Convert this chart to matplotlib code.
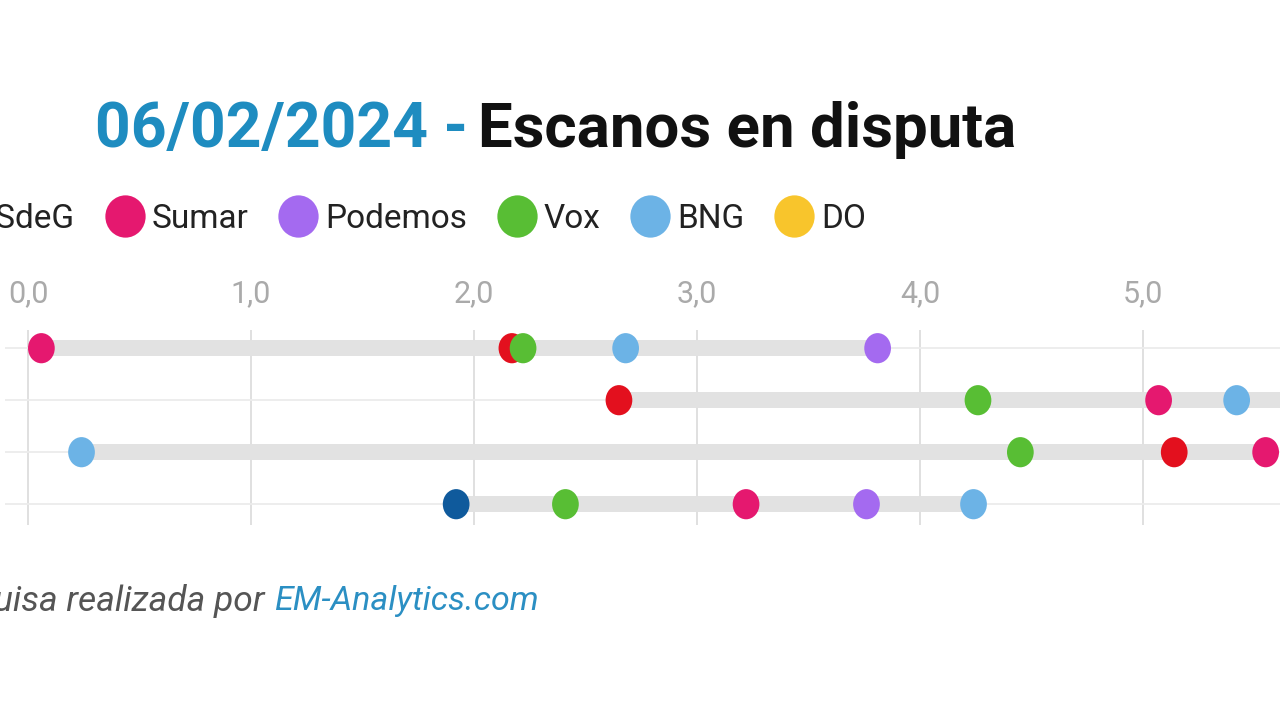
import matplotlib.pyplot as plt
from matplotlib.lines import Line2D
from matplotlib.markers import MarkerStyle
from matplotlib.transforms import Affine2D
from matplotlib.ticker import FuncFormatter

plt.rcParams['font.family'] = ['Roboto', 'DejaVu Sans']

# rows (province labels are cut off in the reference)
rows = ['A Coruña', 'Lugo', 'Ourense', 'Pontevedra']

parties = ['PP', 'PSdeG', 'Sumar', 'Podemos', 'Vox', 'BNG', 'DO']
colors = ['#0f5a9c', '#e3101e', '#e5186f', '#a46af0', '#58be34', '#6cb3e6', '#f8c52c']

# seats in dispute per row, None = not shown
pp = [None, None, None, 1.92]
psdeg = [2.17, 2.65, 5.14, None]
sumar = [0.06, 5.07, 5.55, 3.22]
podemos = [3.81, 5.90, None, 3.76]
vox = [2.22, 4.26, 4.45, 2.41]
bng = [2.68, 5.42, 0.24, 4.24]
do = [None, None, None, None]

values = [pp, psdeg, sumar, podemos, vox, bng, do]
ticks = [0, 1, 2, 3, 4, 5]

fig = plt.figure(figsize=(12.8, 7.2), dpi=100)
W, H = 1280, 720
ax = fig.add_axes([5 / W, (H - 525) / H, 1275 / W, 195 / H])

# background bars from min to max of each row
for i in range(len(rows)):
    vals = [v[i] for v in values if v[i] is not None]
    ax.hlines(i, min(vals), max(vals), color='#e2e2e2', lw=11.5, zorder=2, capstyle='butt')

dot = MarkerStyle('o', transform=Affine2D().scale(1, 1.13))
for name, col, vals in zip(parties, colors, values):
    ys = [i for i, v in enumerate(vals) if v is not None]
    xs = [v for v in vals if v is not None]
    if xs:
        ax.scatter(xs, ys, s=370, marker=dot, color=col, edgecolors='none', zorder=3)

ax.set_xticks(ticks)
ax.xaxis.set_major_formatter(FuncFormatter(lambda x, p: f'{x:.1f}'.replace('.', ',')))
ax.xaxis.set_ticks_position('top')
ax.tick_params(axis='x', length=0, pad=16, labelsize=22, labelcolor='#aaaaaa')
ax.set_yticks(range(len(rows)))
ax.set_yticklabels([])
ax.tick_params(axis='y', length=0)
ax.grid(axis='x', color='#dddddd', lw=1.3, zorder=0)
ax.grid(axis='y', color='#ececec', lw=1.3, zorder=0)
ax.set_axisbelow(True)
for s in ax.spines.values():
    s.set_visible(False)

px = 223.0  # pixels per unit
ax.set_xlim(-23 / px, 1252 / px)
ax.set_ylim(len(rows) - 1 + 0.40, -0.35)

# legend
leg_dot = MarkerStyle('o', transform=Affine2D().scale(1, 1.05))
handles = [Line2D([], [], ls='', marker=leg_dot, markersize=29, color=c, markeredgewidth=0)
           for c in colors]
fig.legend(handles, parties, ncol=7, loc='center left', bbox_to_anchor=(-191 / W, 1 - 219 / H),
           frameon=False, fontsize=24, handlelength=1.2, handletextpad=0.2,
           columnspacing=0.9, borderpad=0, borderaxespad=0, labelcolor='#222222')

# title
fig.text(95 / W, 1 - 147 / H, '06/02/2024 -', fontsize=45, fontweight='bold',
         color='#1e8cc0', va='baseline', ha='left')
fig.text(478 / W, 1 - 147 / H, 'Escanos en disputa', fontsize=44.5, fontweight='bold',
         color='#111111', va='baseline', ha='left')

# footer
fig.text(265 / W, 1 - 601 / H, 'Enquisa realizada por', fontsize=25.5, style='italic',
         color='#555555', va='center', ha='right')
fig.text(274 / W, 1 - 601 / H, 'EM-Analytics.com', fontsize=24.5, style='italic',
         color='#2b8fc3', va='center', ha='left')

fig.savefig('out.png', dpi=100, facecolor='white')
